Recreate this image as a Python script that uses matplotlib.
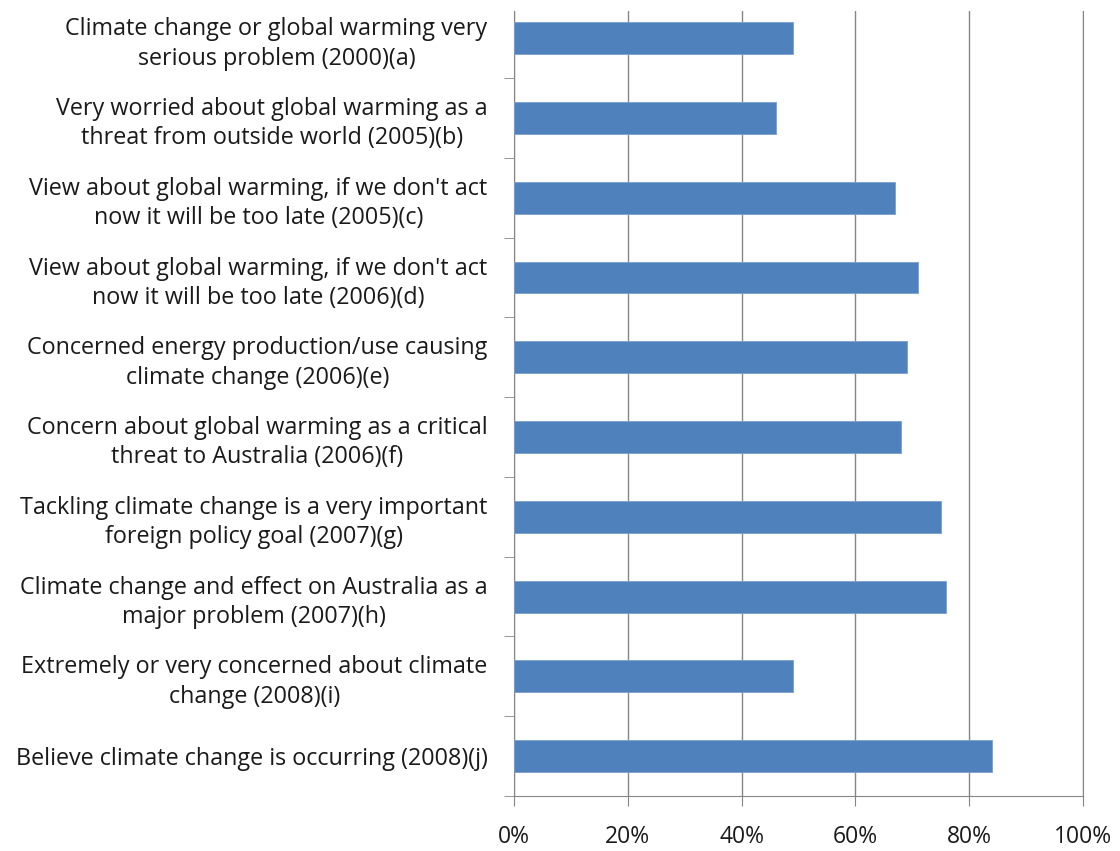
import matplotlib
matplotlib.use("Agg")
import matplotlib.pyplot as plt
from matplotlib.ticker import FixedLocator, PercentFormatter

labels = [
    "Climate change or global warming very\nserious problem (2000)(a)",
    "Very worried about global warming as a\nthreat from outside world (2005)(b)",
    "View about global warming, if we don't act\nnow it will be too late (2005)(c)",
    "View about global warming, if we don't act\nnow it will be too late (2006)(d)",
    "Concerned energy production/use causing\nclimate change (2006)(e)",
    "Concern about global warming as a critical\nthreat to Australia (2006)(f)",
    "Tackling climate change is a very important\nforeign policy goal (2007)(g)",
    "Climate change and effect on Australia as a\nmajor problem (2007)(h)",
    "Extremely or very concerned about climate\nchange (2008)(i)",
    "Believe climate change is occurring (2008)(j)",
]
values = [49, 46, 67, 71, 69, 68, 75, 76, 49, 84]
x_ticks = [0, 20, 40, 60, 80, 100]

plt.rcParams['font.family'] = ['Open Sans', 'DejaVu Sans']

fig = plt.figure(figsize=(11.2, 8.51), dpi=100)
ax = fig.add_axes([0.4589, 0.0646, 0.5080, 0.9224])

n = len(values)
ypos = [n - 1 - i for i in range(n)]
ax.barh(ypos, values, height=0.4, color='#4F81BD', edgecolor='#7BA0CD', linewidth=0.6, zorder=3)

ax.set_xlim(0, 100)
ax.set_ylim(-0.5, 9.34)
ax.xaxis.set_major_locator(FixedLocator(x_ticks))
ax.xaxis.set_major_formatter(PercentFormatter(decimals=0))
ax.grid(axis='x', color='#868686', linewidth=1.0, zorder=0)

ax.set_yticks(ypos)
ax.set_yticklabels(labels)
ax.set_yticks([k + 0.5 for k in range(-1, n - 1)], minor=True)
ax.tick_params(axis='y', which='major', length=0, pad=19, labelsize=16.8, labelcolor='#1a1a1a')
ax.tick_params(axis='y', which='minor', length=7, color='#868686')
ax.tick_params(axis='x', length=7, color='#868686', pad=14, labelsize=16.5, labelcolor='#1a1a1a')
for t in ax.get_yticklabels():
    t.set_multialignment('center')
    t.set_linespacing(1.3)

ax.spines['top'].set_visible(False)
for side in ['left', 'bottom', 'right']:
    ax.spines[side].set_color('#868686')

fig.savefig('out.png', dpi=100)
